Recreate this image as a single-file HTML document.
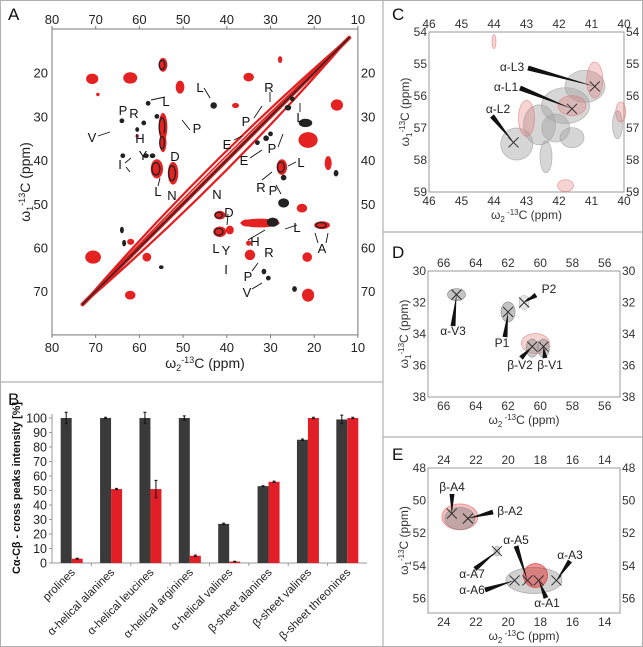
<!DOCTYPE html>
<html><head><meta charset="utf-8">
<style>
html,body{margin:0;padding:0;background:#fff;}
svg{display:block;font-family:"Liberation Sans",Arial,sans-serif;}
</style></head>
<body>
<svg id="fig" width="643" height="647" viewBox="0 0 643 647" xmlns="http://www.w3.org/2000/svg"></svg>
<script>
// ---------- Panel B data ----------
const categories = ["prolines","α-helical alanines","α-helical leucines","α-helical arginines","α-helical valines","β-sheet alanines","β-sheet valines","β-sheet threonines"];
const darkValues = [100,100,100,100,27,53,85,99];
const redValues  = [3,51,51,5,1,56,100,100];
const darkErrors = [4,0.5,4,1.5,0.5,0.3,0.5,3];
const redErrors  = [0.3,0.5,6,0.5,0.2,0.5,0.5,0.5];
const yTicksB = [0,10,20,30,40,50,60,70,80,90,100];

// ---------- Panel A data (ppm) ----------
const peakAx = [62.1,70.8,54.6,50.7,54.6,54.6,56,52.3,27.8,35,21.4,14.8,27.4,27,22.8,22,16.8,70.6,62.1,58.3,62,41.6,41.6,39.3,32.4,35.5,29.5,34.7,21.6,21.4,18.2,35,43,38,69.5,63.8,59,60.5,58.5,57,64,58,56,31,33,30,27,26,25,15,64,63.5,55,31.5,24.5,30.5,60.5];
const peakAy = [21.2,21.4,18.2,23.3,32.4,36,42,43,17,21,35.4,27.4,41.6,49.8,51,31.5,40.7,62.2,70.9,62.2,58.7,52.6,56.4,56,54.4,54.4,54.2,61.7,62.2,70.9,54.9,59,27.5,27.5,25,39,31.5,34.5,39,39,31,27,30,35,36,34,44,28,26,43,56,59,64.5,65.5,69.5,67,33];
const peakAtype = ["r","r","m","r","m","m","m","m","r","r","r","r","m","k","r","k","r","r","r","r","r","m","m","r","r","r","k","r","r","r","m","r","k","r","r","k","k","r","k","k","k","k","k","k","k","k","k","k","k","k","k","k","k","k","k","k","k"];
const peakAsize = [[1.6,1.3],[1.4,1.2],[1.0,1.6],[1.0,1.5],[1.0,3.2],[0.8,2.2],[1.4,2.2],[1.2,2.6],[0.5,0.8],[1.2,1.0],[2.2,1.8],[1.4,1.3],[1.2,1.8],[1.1,0.9],[1.2,1.0],[1.4,0.8],[0.8,1.6],[1.8,1.5],[1.2,1.0],[1.0,1.0],[0.8,0.7],[1.3,1.0],[1.5,1.2],[0.9,1.0],[4.5,1.0],[1.2,0.8],[1.2,0.9],[1.2,1.2],[1.1,1.1],[1.4,1.5],[1.8,0.9],[0.6,0.6],[0.6,0.6],[0.8,0.6],[0.4,0.4],[0.4,0.4],[0.4,0.4],[0.4,0.4],[0.5,0.4],[0.5,0.4],[0.4,0.4],[0.4,0.4],[0.4,0.4],[0.5,0.5],[0.4,0.4],[0.4,0.4],[0.5,0.5],[0.6,0.5],[0.4,0.4],[0.4,0.6],[0.3,0.6],[0.3,0.6],[0.4,0.3],[0.4,0.5],[0.4,0.5],[0.4,0.4],[0.3,0.4]];
const diagStart = 12, diagEnd = 73;

// ---------- Panels C/D/E peaks ----------
const peakCx = [41.6,43.4,40.9], peakCy = [56.4,57.45,55.7], peakCnames = ["α-L1","α-L2","α-L3"];
const peakDx = [65.2,62.0,61.0,60.5,59.8], peakDy = [31.5,32.6,32.0,34.8,34.8], peakDnames = ["α-V3","P1","P2","β-V2","β-V1"];
const peakEx = [23.5,22.5,20.7,19.6,18.8,18.1,17.0], peakEy = [50.8,51.1,53.1,54.9,54.9,54.9,54.9], peakEnames = ["β-A4","β-A2","α-A7","α-A6","α-A5","α-A1","α-A3"];

const NS="http://www.w3.org/2000/svg";
const svg=document.getElementById('fig');
function mk(tag,attrs,parent){const e=document.createElementNS(NS,tag);for(const k in attrs)e.setAttribute(k,attrs[k]);(parent||svg).appendChild(e);return e;}
function txt(s,attrs,parent){const e=mk('text',attrs,parent);e.textContent=s;return e;}

// ---------- frame and dividers ----------
let fr=mk('rect',{x:0.5,y:0.5,width:642,height:646,fill:'none',stroke:'#b0b0b0'});


const dividers=[[383,0,383,647],[0,382,383,382],[383,232,643,232],[383,437,643,437]];
for(const d of dividers){
  const l=mk('line',{x1:d[0],y1:d[1],x2:d[2],y2:d[3],stroke:'#b0b0b0','stroke-width':1.2});
  
  
}
const panelLetters=[["A",8,20],["B",8,405],["C",392,20],["D",392,258],["E",392,460]];
for(const p of panelLetters){
  const t=txt(p[0],{x:p[1],y:p[2],'font-size':17,fill:'#111'});
  
  
}

// ---------- Panel A ----------
const gA=mk('g',{});


const A={x0:52,y0:29,s:4.37};
const xA=p=>A.x0+(80-p)*A.s, yA=p=>A.y0+(p-10)*A.s;
let boxA=mk('rect',{x:xA(80),y:yA(10),width:xA(10)-xA(80),height:yA(80)-yA(10),fill:'none',stroke:'#777'},gA);


// diagonal: main line plus two lens-shaped side bands
const mid=(diagStart+diagEnd)/2;
const lens=[[2.2,-2.2,'#e02020',2.2],[-2.2,2.2,'#e02020',2.2],[1.1,-1.1,'#e02020',1.5]];
for(const b of lens){
  const p=mk('path',{d:`M${xA(diagStart)},${yA(diagStart)}Q${xA(mid+b[0])},${yA(mid+b[1])} ${xA(diagEnd)},${yA(diagEnd)}`,fill:'none',stroke:b[2],'stroke-width':b[3]},gA);
  
  
}
const mainDiag=[[0,'#e02020',4],[0,'#222',1.3]];
for(const b of mainDiag){
  const l=mk('line',{x1:xA(diagStart),y1:yA(diagStart),x2:xA(diagEnd),y2:yA(diagEnd),stroke:b[1],'stroke-width':b[2],'stroke-linecap':'round'},gA);
  
  
}
for(let i=0;i<peakAx.length;i++){
  const t=peakAtype[i], sz=peakAsize[i];
  const cx=xA(peakAx[i]), cy=yA(peakAy[i]);
  if(t==='r'||t==='m'){
    const e=mk('ellipse',{cx:cx,cy:cy,rx:sz[0]*A.s,ry:sz[1]*A.s,fill:'#e52222'},gA);
    
    
  }
  if(t==='m'||t==='k'){
    const f=t==='m'?0.65:1;
    const e=mk('ellipse',{cx:cx+(t==='m'?-1:0),cy:cy,rx:sz[0]*A.s*f,ry:sz[1]*A.s*f,fill:t==='m'?'none':'#222',stroke:'#222','stroke-width':1.3},gA);
    
    
  }
}
// ticks & labels A
for(let v=80;v>=10;v-=10){
  const x=xA(v);
  for(const yy of [yA(10),yA(80)]){
    const tk=mk('line',{x1:x,y1:yy,x2:x,y2:yy+(yy===yA(10)?-3:3),stroke:'#777'},gA);
    
    
  }
  const t1=txt(v,{x:x,y:yA(10)-5,'text-anchor':'middle','font-size':13,fill:'#222'},gA);
  
  
  const t2=txt(v,{x:x,y:yA(80)+17,'text-anchor':'middle','font-size':13,fill:'#222'},gA);
  
  
}
for(let v=20;v<=70;v+=10){
  const y=yA(v);
  const t1=txt(v,{x:xA(80)-4,y:y+5,'text-anchor':'end','font-size':13,fill:'#222'},gA);
  
  
  const t2=txt(v,{x:xA(10)+3,y:y+5,'font-size':13,fill:'#222'},gA);
  
  
}
let xtA=mk('text',{x:205,y:368,'text-anchor':'middle','font-size':14,fill:'#222'},gA);
xtA.innerHTML='ω<tspan font-size="9" dy="3">2</tspan><tspan dy="-8" font-size="9">-13</tspan><tspan dy="5">C (ppm)</tspan>';


let ytA=mk('text',{x:0,y:0,'text-anchor':'middle','font-size':14,fill:'#222',transform:'translate(30,182) rotate(-90)'},gA);
ytA.innerHTML='ω<tspan font-size="9" dy="3">1</tspan><tspan dy="-8" font-size="9">-13</tspan><tspan dy="5">C (ppm)</tspan>';


// residue labels (annotation)
const labelsA=[["L",200,92],["R",269,92],["P",123,115],["R",134,118],["L",166,106],["L",300,122],["V",92,142],["H",140,143],["P",197,133],["P",246,126],["E",227,149],["E",244,165],["P",272,153],["Y",143,160],["D",175,161],["I",120,169],["L",301,167],["L",158,196],["N",172,200],["R",261,192],["P",273,195],["N",217,199],["D",229,217],["H",255,246],["L",297,232],["R",269,257],["A",322,253],["L",216,253],["Y",226,255],["I",226,274],["P",248,281],["V",247,297]];
for(const l of labelsA){
  const t=txt(l[0],{x:l[1],y:l[2],'text-anchor':'middle','font-size':13,fill:'#111'},gA);
  
  
}
const arrowsA=[[204,88,210,98],[270,92,270,102],[165,97,151,100],[300,112,300,103],[98,136,110,132],[190,130,182,120],[254,118,262,106],[234,140,242,136],[250,158,262,150],[278,147,283,134],[125,163,131,158],[126,167,130,172],[296,162,288,166],[262,180,272,172],[276,185,281,194],[248,240,265,230],[297,225,285,229],[318,243,315,233],[326,243,328,233],[252,271,258,263],[252,289,262,283],[228,214,227,225],[158,186,160,178]];
for(const a of arrowsA){
  const l=mk('line',{x1:a[0],y1:a[1],x2:a[2],y2:a[3],stroke:'#111','stroke-width':0.9},gA);
  
  
}

// ---------- Panel B ----------
const gB=mk('g',{});


const B={x0:52,x1:367,y0:563,y100:418};
const yB=v=>B.y0+(B.y100-B.y0)*v/100;
const step=(B.x1-B.x0)/categories.length, bw=11;
let axY=mk('line',{x1:B.x0,y1:yB(0),x2:B.x0,y2:yB(100)-4,stroke:'#999'},gB);


let axX=mk('line',{x1:B.x0,y1:yB(0),x2:B.x1,y2:yB(0),stroke:'#999'},gB);


for(const v of yTicksB){
  const tk=mk('line',{x1:B.x0-3,y1:yB(v),x2:B.x0,y2:yB(v),stroke:'#999'},gB);
  
  
  const t=txt(v,{x:B.x0-5,y:yB(v)+4.5,'text-anchor':'end','font-size':12.5,fill:'#222'},gB);
  
  
}
for(let i=0;i<categories.length;i++){
  const c=B.x0+(i+0.5)*step;
  const bd=mk('rect',{x:c-bw,y:yB(darkValues[i]),width:bw,height:yB(0)-yB(darkValues[i]),fill:'#3a3a3a'},gB);
  
  
  const br=mk('rect',{x:c,y:yB(redValues[i]),width:bw,height:yB(0)-yB(redValues[i]),fill:'#e21f26'},gB);
  
  
  const errs=[[c-bw/2,darkValues[i],darkErrors[i]],[c+bw/2,redValues[i],redErrors[i]]];
  for(const e of errs){
    const g=mk('path',{d:`M${e[0]},${yB(e[1]+e[2])}V${yB(e[1]-e[2])}M${e[0]-1.5},${yB(e[1]+e[2])}h3M${e[0]-1.5},${yB(e[1]-e[2])}h3`,stroke:'#111','stroke-width':1,fill:'none'},gB);
    
    
  }
  if(i>0){
    const tk=mk('line',{x1:B.x0+i*step,y1:yB(0),x2:B.x0+i*step,y2:yB(0)+3,stroke:'#999'},gB);
    
    
  }
  const t=txt(categories[i],{x:0,y:0,'text-anchor':'end','font-size':11.5,fill:'#222',transform:`translate(${c+4},${yB(0)+10}) rotate(-45)`},gB);
  
  
}
let ytB=txt('Cα-Cβ - cross peaks intensity  [%]',{x:0,y:0,'text-anchor':'middle','font-size':11,'font-weight':'bold',fill:'#111',textLength:172,lengthAdjust:'spacingAndGlyphs',transform:'translate(20,488) rotate(-90)'},gB);



// ---------- small spectra helper ----------
function smallPanel(cfg){
  const g=mk('g',{});
  
  
  const sx=p=>cfg.bx0+(cfg.px0-p)/(cfg.px0-cfg.px1)*(cfg.bx1-cfg.bx0);
  const sy=p=>cfg.by0+(p-cfg.py0)/(cfg.py1-cfg.py0)*(cfg.by1-cfg.by0);
  cfg.sx=sx;cfg.sy=sy;cfg.g=g;
  const box=mk('rect',{x:cfg.bx0,y:cfg.by0,width:cfg.bx1-cfg.bx0,height:cfg.by1-cfg.by0,fill:'none',stroke:'#999'},g);
  
  
  for(const v of cfg.xt){
    const t1=txt(v,{x:sx(v),y:cfg.by0-4,'text-anchor':'middle','font-size':12,fill:'#333'},g);
    
    
    const t2=txt(v,{x:sx(v),y:cfg.by1+13,'text-anchor':'middle','font-size':12,fill:'#333'},g);
    
    
  }
  for(const v of cfg.yt){
    const t1=txt(v,{x:cfg.bx0-2,y:sy(v)+4,'text-anchor':'end','font-size':12,fill:'#333'},g);
    
    
    const t2=txt(v,{x:cfg.bx1+2,y:sy(v)+4,'font-size':12,fill:'#333'},g);
    
    
  }
  const xt=mk('text',{x:(cfg.bx0+cfg.bx1)/2,y:cfg.by1+27,'text-anchor':'middle','font-size':12,fill:'#333'},g);
  xt.innerHTML='ω<tspan font-size="8" dy="3">2</tspan><tspan dy="-7" font-size="8"> -13</tspan><tspan dy="4">C  (ppm)</tspan>';
  
  
  const yt=mk('text',{x:0,y:0,'text-anchor':'middle','font-size':12,fill:'#333',transform:`translate(${cfg.bx0-20},${(cfg.by0+cfg.by1)/2}) rotate(-90)`},g);
  yt.innerHTML='ω<tspan font-size="8" dy="3">1</tspan><tspan dy="-7" font-size="8">-13</tspan><tspan dy="4">C  (ppm)</tspan>';
  
  
  return cfg;
}
function blob(cfg,x,y,rx,ry,fill,op,name){
  const e=mk('ellipse',{cx:cfg.sx(x),cy:cfg.sy(y),rx:rx,ry:ry,fill:fill,'fill-opacity':op,stroke:fill,'stroke-opacity':Math.min(1,op+0.3),'stroke-width':0.8},cfg.g);
  
  
}
function cross(cfg,x,y){
  const cx=cfg.sx(x),cy=cfg.sy(y),r=5;
  const p=mk('path',{d:`M${cx-r},${cy-r}L${cx+r},${cy+r}M${cx+r},${cy-r}L${cx-r},${cy+r}`,stroke:'#222','stroke-width':0.9},cfg.g);
  
  
}
function wedge(cfg,lx,ly,x,y){
  const cx=cfg.sx(x),cy=cfg.sy(y);
  const dx=cx-lx,dy=cy-ly,L=Math.hypot(dx,dy),nx=-dy/L*2.5,ny=dx/L*2.5;
  const p=mk('polygon',{points:`${lx+nx},${ly+ny} ${lx-nx},${ly-ny} ${cx},${cy}`,fill:'#111'},cfg.g);
  
  
}
function lab(cfg,s,x,y){
  const t=txt(s,{x:x,y:y,'text-anchor':'middle','font-size':12,fill:'#222'},cfg.g);
  
  
}

// ---------- Panel C ----------
const C=smallPanel({name:'panel-c-spectrum',bx0:429,bx1:624,by0:32,by1:192,px0:46,px1:40,py0:54,py1:59,xt:[46,45,44,43,42,41,40],yt:[54,55,56,57,58,59]});
const Cblobs=[[43.3,57.5,16,16],[42.6,56.9,16,20],[41.8,56.3,24,18],[41.2,55.7,20,16],[42.4,57.9,6,16],[41.6,57.3,12,10],[40.2,56.9,5,14],[42.1,57.0,14,14]];
for(const b of Cblobs) blob(C,b[0],b[1],b[2],b[3],'#a5a5a5',0.45,'contour-gray');
const CblobsR=[[43.0,56.7,8,18],[41.6,56.3,14,10],[40.9,55.5,8,18],[40.1,56.5,5,10],[41.8,58.8,8,6],[44.0,54.3,2,7]];
for(const b of CblobsR) blob(C,b[0],b[1],b[2],b[3],'#e07070',0.3,'contour-red');
for(let i=0;i<peakCx.length;i++) cross(C,peakCx[i],peakCy[i]);
const Clab=[[506,91,520,88],[498,113,492,116],[512,71,528,68]];
for(let i=0;i<3;i++){lab(C,peakCnames[i],Clab[i][0],Clab[i][1]);wedge(C,Clab[i][2],Clab[i][3],peakCx[i],peakCy[i]);}

// ---------- Panel D ----------
const D=smallPanel({name:'panel-d-spectrum',bx0:428,bx1:620,by0:271,by1:397,px0:66.97,px1:55.05,py0:30,py1:38,xt:[66,64,62,60,58,56],yt:[30,32,34,36,38]});
const Dblobs=[[65.2,31.5,9,6,'#8a8a8a',0.5],[62.0,32.6,7,10,'#8a8a8a',0.5],[61.0,32.0,5,7,'#aaaaaa',0.3],[60.3,34.6,14,10,'#e08080',0.35],[60.5,34.9,6,9,'#8a8a8a',0.45],[59.8,34.9,6,9,'#8a8a8a',0.45]];
for(const b of Dblobs) blob(D,b[0],b[1],b[2],b[3],b[4],b[5],'contour');
for(let i=0;i<peakDx.length;i++) cross(D,peakDx[i],peakDy[i]);
const Dlab=[[453,335,453,326],[502,347,505,337],[549,293,536,295],[520,369,521,358],[550,369,545,358]];
for(let i=0;i<5;i++){lab(D,peakDnames[i],Dlab[i][0],Dlab[i][1]);wedge(D,Dlab[i][2],Dlab[i][3],peakDx[i],peakDy[i]);}

// ---------- Panel E ----------
const E=smallPanel({name:'panel-e-spectrum',bx0:428,bx1:620,by0:468,by1:613,px0:24.98,px1:13.05,py0:48,py1:56.9,xt:[24,22,20,18,16,14],yt:[48,50,52,54,56]});
const Eblobs=[[23.0,51.0,18,13,'#e06060',0.4],[23.0,51.1,15,11,'#888888',0.45],[18.4,54.9,28,13,'#9a9a9a',0.45],[18.3,54.6,12,12,'#e03030',0.5],[20.7,53.1,3,5,'#999999',0.4]];
for(const b of Eblobs) blob(E,b[0],b[1],b[2],b[3],b[4],b[5],'contour');
for(let i=0;i<peakEx.length;i++) cross(E,peakEx[i],peakEy[i]);
const Elab=[[452,491,452,494],[510,515,493,512],[472,578,475,569],[472,594,485,590],[516,544,516,546],[547,607,546,598],[570,559,570,561]];
for(let i=0;i<7;i++){lab(E,peakEnames[i],Elab[i][0],Elab[i][1]);wedge(E,Elab[i][2],Elab[i][3],peakEx[i],peakEy[i]);}
</script>
</body></html>
